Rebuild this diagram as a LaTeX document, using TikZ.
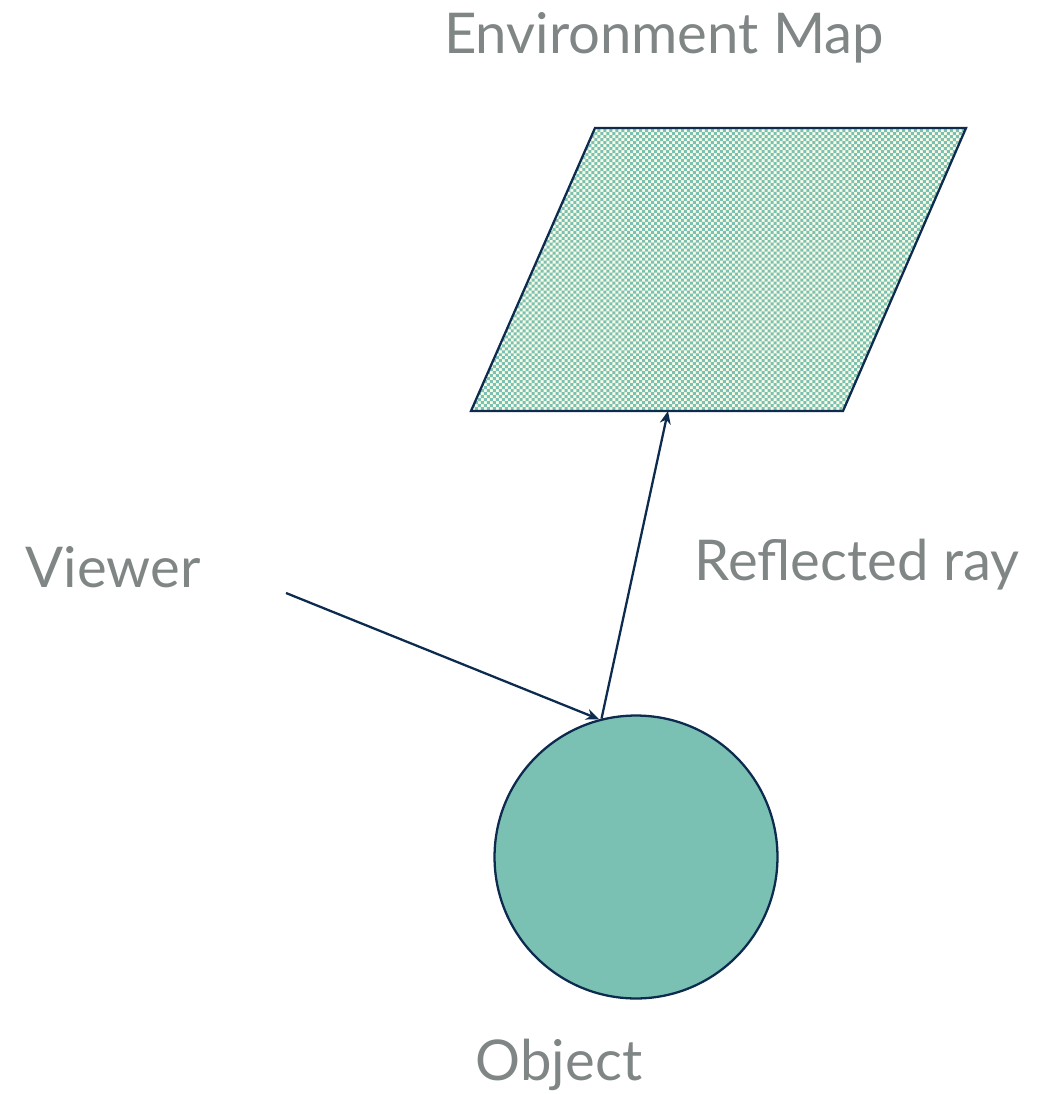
\documentclass[tikz,border=0pt]{standalone}
\usepackage{fontspec}
\setmainfont{Lato}
\usetikzlibrary{arrows.meta,patterns}

\definecolor{raynavy}{HTML}{0D2B4E}
\definecolor{labelgray}{HTML}{808585}
\definecolor{objteal}{HTML}{7BC1B3}
\definecolor{mapcream}{HTML}{FBFBE6}

% finer checkerboard for the map
\pgfdeclarepatternformonly{finechecker}{\pgfqpoint{-1pt}{-1pt}}{\pgfqpoint{4.4pt}{4.4pt}}{\pgfqpoint{3.4pt}{3.4pt}}
{
  \pgfpathrectangle{\pgfqpoint{0pt}{0pt}}{\pgfqpoint{1.7pt}{1.7pt}}
  \pgfpathrectangle{\pgfqpoint{1.7pt}{1.7pt}}{\pgfqpoint{1.7pt}{1.7pt}}
  \pgfusepath{fill}
}

\tikzset{
  label text/.style={text=labelgray, font=\fontsize{32}{38}\selectfont, inner sep=0pt},
  ray/.style={draw=raynavy, line width=1.3pt, -{Stealth[length=2.6mm,width=2.2mm]}},
  ball/.style={circle, draw=raynavy, line width=1.3pt, fill=objteal, inner sep=0pt, minimum size=5.66cm}
}

\begin{document}
\begin{tikzpicture}[x=0.02cm,y=-0.02cm]

	\useasboundingbox (0,0) rectangle (1047,1094);

	% corners of the map
	\coordinate (tl) at (595,128);
	\coordinate (tr) at (966,128);
	\coordinate (br) at (843,411);
	\coordinate (bl) at (471,411);

	% environment map
	\fill[mapcream] (tl) -- (tr) -- (br) -- (bl) -- cycle;
	\fill[pattern=finechecker, pattern color=objteal] (tl) -- (tr) -- (br) -- (bl) -- cycle;
	\draw[raynavy, line width=1.3pt, line join=miter] (tl) -- (tr) -- (br) -- (bl) -- cycle;

	% object
	\node[ball] (obj) at (636,857) {};

	% ray points
	\coordinate (eye) at (286,593);
	\coordinate (maphit) at (668,411);

	% rays
	\draw[ray] (eye) -- (obj.105);
	\draw[ray] (obj.104) -- (maphit);

	% labels
	\node[label text] (maplabel) at (664,38) {Environment Map};
	\node[label text] (viewerlabel) at (113,567) {Viewer};
	\node[label text] (raylabel) at (857,565) {Reflected ray};
	\node[label text] (objlabel) at (559,1065) {Object};

\end{tikzpicture}
\end{document}
